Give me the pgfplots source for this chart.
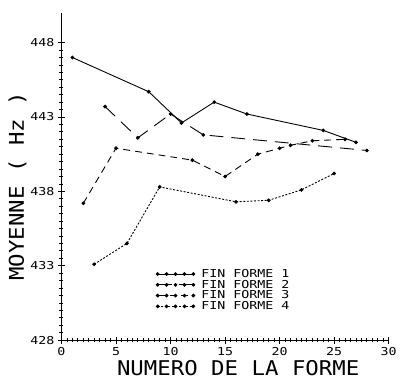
\documentclass[border=0pt]{standalone}
\usepackage{pgfplots}
\pgfplotsset{compat=1.18}
\usepackage{fontspec}
\setmainfont[FakeStretch=1.22]{DejaVu Sans Mono}
\newfontfamily\labfont[FakeStretch=1.1]{DejaVu Sans Mono}
\begin{document}
\begin{tikzpicture}
\begin{axis}[
  scale only axis, width=330pt, height=330pt,
  xmin=0, xmax=30, ymin=428, ymax=450,
  axis x line*=bottom, axis y line*=left,
  xtick={0,5,...,30}, ytick={428,433,438,443,448},
  minor x tick num=9, minor y tick num=9,
  tick align=center, major tick length=7pt, minor tick length=4pt,
  tick style={black, line width=0.8pt},
  axis line style={line width=1.1pt},
  ticklabel style={font=\fontsize{11}{11}\selectfont},
  /pgf/number format/assume math mode=true,
  /pgf/number format/1000 sep={},
  xlabel={NUMERO DE LA FORME}, ylabel={MOYENNE ( Hz )},
  label style={font=\labfont\fontsize{20.5}{20.5}\selectfont},
  xlabel style={at={(ticklabel cs:0.54)}, yshift=2pt},
  ylabel style={at={(ticklabel cs:0.47)}, yshift=-3pt},
  every axis plot/.append style={black, line width=0.9pt, mark=*, mark size=1.4pt, mark options={solid}},
  legend image code/.code={\draw[#1] plot coordinates {(0pt,0pt)(9pt,0pt)(18pt,0pt)(27pt,0pt)(36pt,0pt)};},
  legend style={at={(rel axis cs:0.28,0.225)}, anchor=north west, draw=none, fill=none,
    font=\fontsize{11}{11}\selectfont, row sep=0pt, column sep=6pt, nodes={inner sep=0.6pt}},
  legend cell align=left,
]
\addplot[solid] coordinates {(1,447.0)(8,444.7)(11,442.6)(14,444.0)(17,443.2)(24,442.1)(27,441.3)};
\addlegendentry{FIN FORME 1}
\addplot[dash pattern=on 14pt off 8pt] coordinates {(4,443.7)(7,441.6)(10,443.2)(13,441.8)(28,440.75)};
\addlegendentry{FIN FORME 2}
\addplot[dash pattern=on 7pt off 5pt] coordinates {(2,437.2)(5,440.9)(12,440.1)(15,439.0)(18,440.5)(20,440.9)(21,441.1)(23,441.4)(26,441.5)};
\addlegendentry{FIN FORME 3}
\addplot[dash pattern=on 2pt off 1.6pt] coordinates {(3,433.1)(6,434.5)(9,438.3)(16,437.3)(19,437.4)(22,438.1)(25,439.2)};
\addlegendentry{FIN FORME 4}
\end{axis}
\path ([yshift=13pt,xshift=-62pt]current axis.north west) -- ([xshift=10pt]current axis.south east);
\end{tikzpicture}
\end{document}
